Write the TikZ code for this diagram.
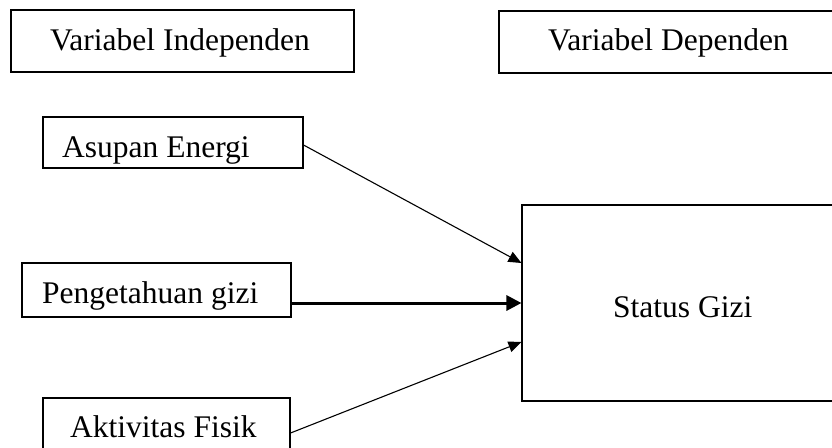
\documentclass[tikz,border=0pt]{standalone}
\usepackage{fontspec}
\setmainfont{Liberation Serif}
\usetikzlibrary{arrows.meta}
\begin{document}
\begin{tikzpicture}[x=1pt,y=-1pt,
  box/.style={draw, line width=1.1pt, inner sep=0pt},
  lbl/.style={inner sep=0pt, anchor=base west, font=\fontsize{31.5}{36}\selectfont},
  arr/.style={line width=1.1pt, -{Triangle[length=13pt,width=11pt]}},
  thickarr/.style={line width=3pt, -{Triangle[length=15pt,width=15pt]}}]
\useasboundingbox (0,0) rectangle (832,447);
\clip (0,0) rectangle (832,447);
% header boxes
\node[box, minimum width=343pt, minimum height=62pt] (vi) at (182.5,41) {};
\node[lbl] (vit) at (50,50) {Variabel Independen};
\node[box, minimum width=342pt, minimum height=62pt] (vd) at (670,42) {};
\node[lbl] (vdt) at (548,50) {Variabel Dependen};
% independent variables
\node[box, minimum width=260pt, minimum height=51pt] (ae) at (173,142.5) {};
\node[lbl] (aet) at (62,157) {Asupan Energi};
\node[box, minimum width=269pt, minimum height=54pt] (pg) at (156.5,290) {};
\node[lbl] (pgt) at (42,303) {Pengetahuan gizi};
\node[box, minimum width=247pt, minimum height=64pt] (ak) at (166.5,430) {};
\node[lbl] (akt) at (70,437) {Aktivitas Fisik};
% dependent variable
\node[box, minimum width=321pt, minimum height=196pt] (sg) at (682.5,303) {};
\node[lbl] (sgt) at (613,317) {Status Gizi};
% arrows
\draw[arr] ([yshift=-2.5pt]ae.east) -- ([yshift=40pt]sg.west);
\draw[thickarr] (pg.east |- sg.west) -- (sg.west);
\draw[arr] ([yshift=-3pt]ak.east) -- ([yshift=-39pt]sg.west);
\end{tikzpicture}
\end{document}
